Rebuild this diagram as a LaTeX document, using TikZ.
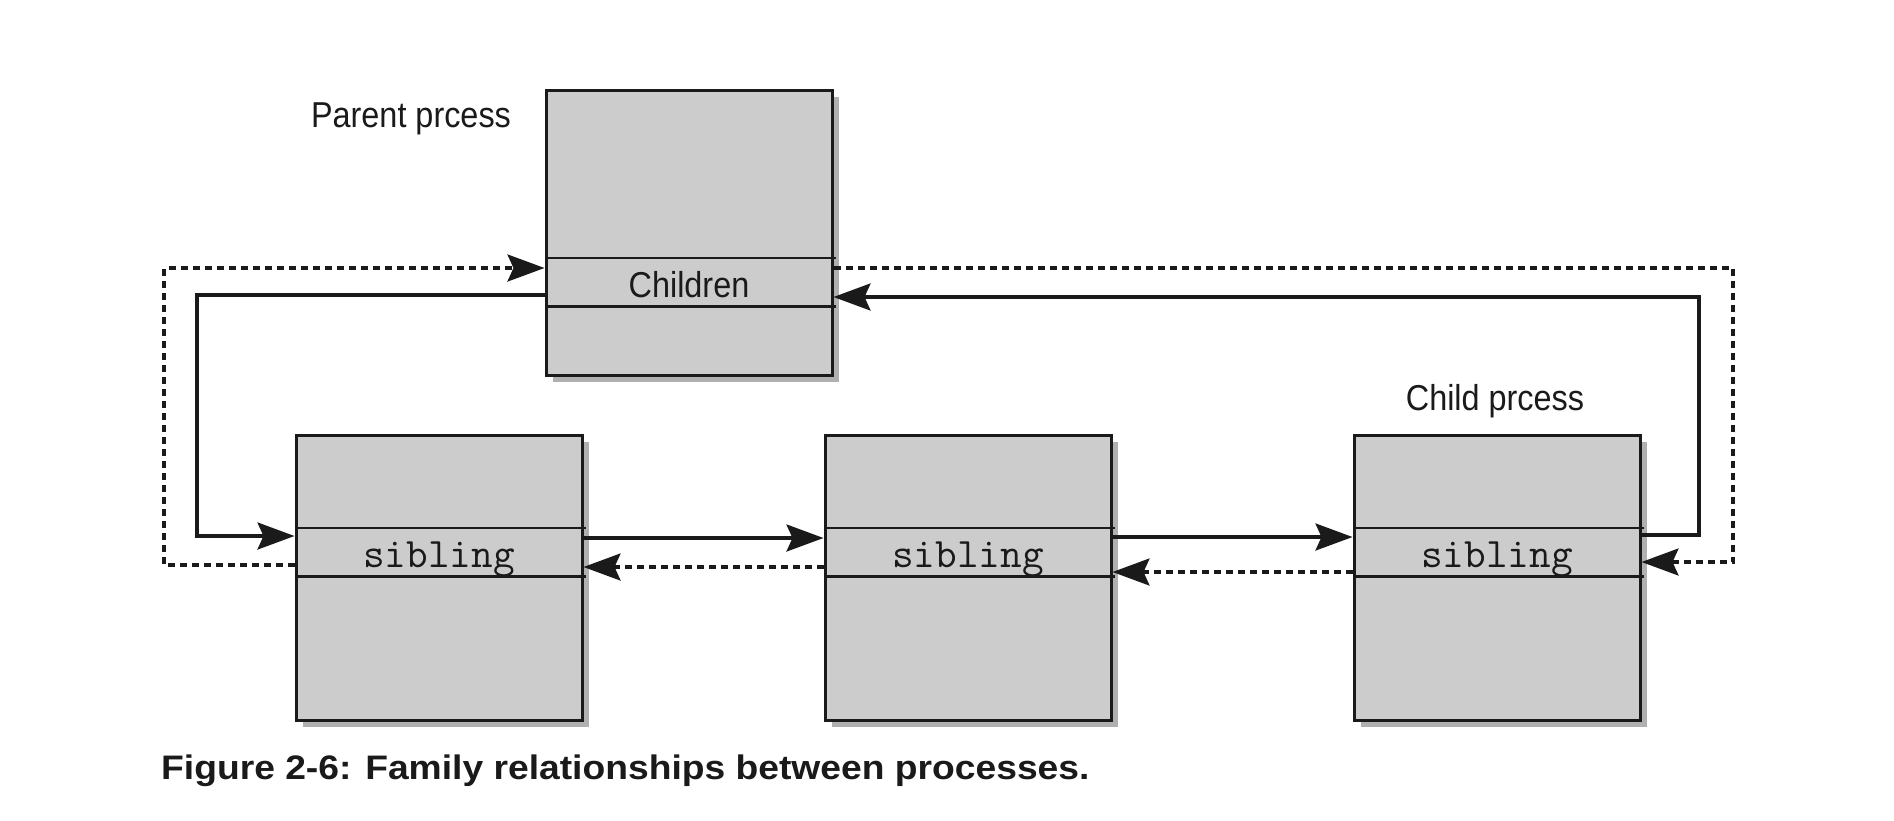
\documentclass[tikz,border=0pt]{standalone}
\usepackage{fontspec}
\setmainfont{Liberation Sans}
\usetikzlibrary{arrows.meta,shadows}
\definecolor{ink}{HTML}{1A1A1A}
\definecolor{boxfill}{HTML}{CCCCCC}
\definecolor{shade}{HTML}{B0B0B0}
\begin{document}
\begin{tikzpicture}[x=1pt,y=-1pt,
  proc/.style={draw=ink, line width=3pt, fill=boxfill, minimum width=286pt, minimum height=285pt, inner sep=0pt,
    drop shadow={shadow xshift=7pt, shadow yshift=-7pt, fill=shade, opacity=1}},
  slot/.style={minimum width=286pt, minimum height=48pt, inner sep=0pt},
  divider/.style={draw=ink, line width=2.6pt},
  link/.style={draw=ink, line width=3.2pt, -{Stealth[length=37pt,width=27pt,inset=6pt]}},
  back/.style={link, dash pattern=on 7pt off 5pt},
  lab/.style={text=ink, font=\fontsize{36}{40}\selectfont, anchor=base, inner sep=0pt},
  mono/.style={text=ink, font=\ttfamily\fontsize{42}{44}\selectfont, anchor=base, inner sep=0pt}]

\path[fill=white, use as bounding box] (0,0) rectangle (1894,820);

% process boxes
\node[proc] (p)  at (689,232.5) {};
\node[proc] (s1) at (439,577.5) {};
\node[proc] (s2) at (968,577.5) {};
\node[proc] (s3) at (1497,577.5) {};

% slots
\node[slot] (ps)  at (689,282) {};
\node[slot] (ss1) at (439,552) {};
\node[slot] (ss2) at (968,552) {};
\node[slot] (ss3) at (1497,552) {};
\foreach \n in {ps,ss1,ss2,ss3}{
  \draw[divider] (\n.north west) -- ([xshift=4pt]\n.north east);
  \draw[divider] (\n.south west) -- ([xshift=4pt]\n.south east);
}

% texts
\node[lab] (ptxt) at (689,297) {\scalebox{0.9}[1]{Children}};
\node[mono] (t1) at (439,567) {sibling};
\node[mono] (t2) at (968,567) {sibling};
\node[mono] (t3) at (1497,567) {sibling};
\node[lab] (plab) at (411,127) {\scalebox{0.9}[1]{Parent prcess}};
\node[lab] (clab) at (1495,410) {\scalebox{0.9}[1]{Child prcess}};
\node[anchor=base west, inner sep=0pt, text=ink, font=\bfseries\fontsize{34}{38}\selectfont] (cap) at (161,779)
  {\scalebox{1.095}[1]{Figure 2-6: Family relationships between processes.}};

% helper coordinates
\coordinate (ldA) at (164,565);
\coordinate (ldB) at (164,268);
\coordinate (lsA) at (197,295);
\coordinate (lsB) at (197,536);
\coordinate (f12) at (0,538);
\coordinate (b21) at (0,567);
\coordinate (f23) at (0,537);
\coordinate (b32) at (0,572);
\coordinate (rsA) at (1699,535);
\coordinate (rsB) at (1699,297);
\coordinate (rdA) at (1733,268);
\coordinate (rdB) at (1733,562);

% connectors
\draw[back] (s1.west |- ldA) -- (ldA) -- (ldB) -- (p.west |- ldB);
\draw[link] (p.west |- lsA) -- (lsA) -- (lsB) -- (s1.west |- lsB);
\draw[link] (s1.east |- f12) -- (s2.west |- f12);
\draw[back] (s2.west |- b21) -- (s1.east |- b21);
\draw[link] (s2.east |- f23) -- (s3.west |- f23);
\draw[back] (s3.west |- b32) -- (s2.east |- b32);
\draw[link] (s3.east |- rsA) -- (rsA) -- (rsB) -- (p.east |- rsB);
\draw[back] (p.east |- rdA) -- (rdA) -- (rdB) -- (s3.east |- rdB);
\end{tikzpicture}
\end{document}
